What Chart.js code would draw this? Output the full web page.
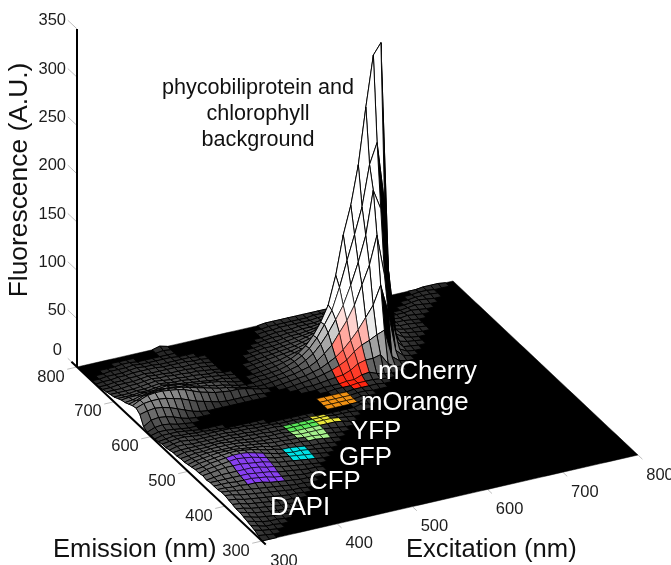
<!DOCTYPE html>
<html>
<head>
<meta charset="utf-8">
<style>html,body{margin:0;padding:0;background:#fff}canvas{display:block}</style>
<script src="https://cdn.jsdelivr.net/npm/chart.js@4"></script>
</head>
<body>
<canvas id="c" width="671" height="565"></canvas>
<script>
const fluorescenceTicks=[0,50,100,150,200,250,300,350];
const emissionTicks=[300,400,500,600,700,800];
const excitationTicks=[300,400,500,600,700,800];
const gridStartNm=300, gridStepNm=10, gridCount=50;
// fluorescence (A.U.) by emission row (800 nm first, 300 nm last); each row runs over excitation from 300 nm in 10 nm steps
const fluorescence=[
[0,0,0,0,0,0,0,0,0,0,0,2,0,0,0,0,0,0,0,0,0,0,0,0,0,1,1,1,1,1,1,1,1,1,1,1,1,1,1,0,0,0,0,0,0,0,1,1,1],
[0,0,0,0,0,0,0,0,0,0,0,1,0,0,0,0,0,0,0,0,0,0,0,0,0,1,1,1,1,1,1,2,2,2,2,2,2,1,1,0,0,0,0,0,0,1,1],
[0,0,0,0,0,1,1,0,0,0,0,0,0,0,0,0,0,0,0,0,0,0,0,0,1,1,2,2,2,2,2,3,3,3,3,3,2,2,1,0,0,0,0,0,1,1,1],
[0,0,0,1,1,1,2,1,1,1,1,1,0,0,0,0,0,0,0,0,0,0,0,0,1,2,2,2,3,3,3,4,5,6,7,7,5,3,1,1,0,0,0,1,2,1],
[0,0,1,1,1,2,3,2,2,1,1,1,1,1,0,0,0,0,0,0,0,0,0,1,2,2,3,3,4,4,5,7,9,12,15,14,9,4,2,1,0,0,1,2,1],
[0,1,1,2,2,3,3,3,3,2,2,2,2,1,1,0,0,0,0,0,0,0,1,2,2,3,4,4,5,6,8,12,16,22,28,26,14,6,2,1,1,1,2,1],
[1,1,2,2,3,3,4,3,3,3,3,2,2,2,1,0,0,0,0,0,0,1,2,2,3,4,5,6,7,9,12,18,26,36,46,40,20,7,3,2,1,2,1],
[2,2,3,3,3,4,5,4,4,3,3,3,2,2,1,0,0,0,0,0,1,2,2,3,4,5,6,8,10,13,18,26,38,52,68,60,28,8,3,2,2,1],
[3,3,3,4,4,5,6,5,5,4,4,3,3,2,1,0,0,0,0,0,1,2,3,4,5,6,8,10,14,18,26,36,52,72,92,82,36,9,4,2,2,1],
[4,4,4,4,5,6,7,6,5,5,4,4,3,2,2,0,0,0,0,1,2,3,4,5,6,8,10,14,19,26,36,50,70,98,125,110,48,10,4,2,1,1],
[5,5,5,6,6,7,8,7,6,6,5,4,4,3,2,1,0,0,0,1,2,3,4,6,8,10,13,18,26,36,50,68,94,130,165,145,60,12,4,2,1],
[7,7,7,8,8,9,10,9,8,7,6,5,4,3,3,1,0,0,0,1,2,3,5,7,11,17,26,38,54,83,123,152,192,250,302,313,76,8,3,1],
[9,10,10,11,11,12,13,12,11,9,8,7,6,5,3,1,0,0,1,1,2,3,5,8,12,18,27,39,52,74,100,125,152,194,215,150,15,4,2,1],
[10,11,13,14,15,15,15,14,13,11,9,8,6,5,3,1,0,0,1,1,2,3,5,7,11,16,24,34,46,59,78,100,126,171,150,55,10,2,1],
[12,14,17,18,19,19,18,17,15,13,11,9,7,6,4,2,1,0,0,1,2,3,4,6,8,12,18,25,36,47,61,80,99,128,85,37,5,1],
[14,18,21,22,22,21,20,18,15,12,10,8,7,6,6,5,3,1,0,0,1,2,3,4,6,8,12,16,22,30,39,50,61,80,50,9,2],
[15,18,19,19,18,16,14,11,8,6,4,2,1,1,1,1,1,0,0,0,0,1,2,3,4,6,8,11,15,22,27,30,34,37,8,2],
[12,14,15,14,12,9,6,3,1,0,0,0,0,0,0,0,0,0,0,0,0,0,1,1,2,3,4,5,8,13,15,15,17,6,1],
[3,8,9,8,6,3,1,0,0,0,0,0,0,0,0,0,0,0,0,0,0,0,0,0,1,1,1,2,2,5,6,3,1],
[1,4,5,4,2,1,0,0,0,0,0,0,0,0,0,0,0,0,0,0,0,0,0,0,0,1,1,1,2,2,2,1],
[1,3,3,2,1,0,0,0,0,0,0,0,0,0,0,0,0,0,0,0,0,0,0,0,0,0,0,1,1,1,1],
[1,3,3,3,2,1,0,0,0,0,0,0,0,0,0,0,0,0,0,0,0,0,0,0,0,0,0,1,1],
[2,3,4,3,3,2,2,1,1,0,0,0,0,0,0,0,0,0,0,0,0,0,0,0,0,0,0,1],
[3,4,5,5,4,3,3,3,3,3,2,2,1,1,0,0,0,0,0,0,0,0,0,0,0,0,0,2],
[3,5,6,5,4,4,4,4,4,3,3,3,2,2,2,1,1,1,1,1,0,0,0,0,0,0,2],
[4,6,6,5,5,5,5,5,5,4,4,3,3,3,3,2,2,2,2,2,2,2,1,1,1],
[5,6,6,6,6,6,6,6,6,5,5,4,4,3,3,3,3,3,3,3,3,3,2,1],
[5,7,7,7,7,8,8,7,7,6,5,5,4,4,4,3,3,3,3,3,3,3,2],
[6,7,8,8,9,9,9,9,8,7,6,5,5,4,4,4,3,3,3,3,2,1],
[6,8,9,10,10,10,10,10,9,8,7,6,5,5,4,4,3,3,2,2,1],
[7,9,10,11,12,12,12,11,10,9,8,6,5,5,4,4,3,3,2,1],
[8,10,11,12,13,14,14,13,12,10,8,7,5,5,4,3,2,2,1],
[9,10,12,13,14,15,15,14,12,10,8,6,5,4,4,3,2,1],
[9,11,12,13,14,15,14,13,11,9,7,6,5,4,3,2,1],
[10,11,12,13,13,13,12,11,10,8,6,5,4,3,2,1],
[9,10,11,11,11,11,11,10,8,7,5,4,3,2,1],
[10,10,10,10,10,10,9,8,7,5,4,3,2,1,1],
[10,10,10,9,9,9,8,7,5,4,3,2,1,1],
[10,10,9,9,8,8,7,5,4,3,2,1,1],
[11,10,9,8,7,6,5,4,3,2,1,1],
[11,10,8,7,6,5,4,3,2,1,1],
[10,9,7,6,5,4,3,2,1,1],
[9,8,6,5,4,3,2,1,1],
[8,7,5,4,3,2,1,1],
[8,6,4,3,2,1,1],
[7,5,3,2,1,1],
[6,4,2,1,1],
[5,3,1,1],
[4,2,1],
[2,1],
[0]
];
// colored protein regions: [emission row, first excitation column, last excitation column (exclusive)]
const dapiCells=[[12,4,9],[13,4,9],[14,4,9],[15,4,9],[16,4,9],[17,4,9]];
const cfpCells=[[16,12,15],[17,12,15],[18,12,15]];
const gfpPaleCells=[[20,16,19],[21,15,19],[22,15,19]];
const gfpCells=[[23,15,19],[24,15,19]];
const yfpCells=[[23,19,22],[24,19,21],[25,19,21]];
const orangeCells=[[27,22,26],[28,22,26],[29,22,26]];
const cherryCells=[[30,27,29],[31,26,29],[32,26,30],[33,26,30],[34,27,31],[35,27,30],[36,28,30],[37,28,29]];
const labelNames=["mCherry","mOrange","YFP","GFP","CFP","DAPI"];
const annotationLines=["phycobiliprotein and","chlorophyll","background"];

const W=671,H=565;
const cell=new Map();
function mark(list,rgb,fade){for(const [j,a,b] of list)for(let i=a;i<b;i++)cell.set(i+','+j,{rgb,fade});}
mark(dapiCells,[136,64,240]);
mark(cfpCells,[0,226,230]);
mark(gfpPaleCells,[165,240,140]);
mark(gfpCells,[90,230,90]);
mark(yfpCells,[235,230,60]);
mark(orangeCells,[240,145,20]);
mark(cherryCells,[255,32,10],true);

function z(i,j){const r=fluorescence[gridCount-j];return (r&&r[i])||0;}
function toNm(k){return gridStartNm+k*gridStepNm;}
function px(ex,em){return 262+(ex-300)/500*376-(em-300)/500*185;}
function py(ex,em,f){return 541-(ex-300)/500*86-(em-300)/500*174-f*0.966;}
function pt(i,j){const e=toNm(i),m=toNm(j);return {x:px(e,m),y:py(e,m,z(i,j))};}
function grey(v){if(v<=0)return 'rgb(0,0,0)';const g=Math.round(35+220*Math.pow(Math.min(v,50)/50,0.75));return `rgb(${g},${g},${g})`;}

const datasets=[];
function base(o){return Object.assign({showLine:true,pointRadius:0,pointHoverRadius:0,tension:0,clip:false,fill:false,borderCapStyle:'butt'},o);}

// surface outline, black where fluorescence is zero
const outline=[];
for(let i=0;i<=gridCount;i++)outline.push(pt(i,0));
for(let j=1;j<=gridCount;j++)outline.push(pt(gridCount,j));
for(let i=gridCount-1;i>=0;i--)outline.push(pt(i,gridCount));
for(let j=gridCount-1;j>=0;j--)outline.push(pt(0,j));
datasets.push(base({data:outline,fill:'shape',backgroundColor:'#000',borderColor:'#000',borderWidth:0.5,order:100000}));

for(let j=0;j<gridCount;j++)for(let i=0;i<gridCount;i++){
  const a=pt(i,j),b=pt(i+1,j),c=pt(i+1,j+1),d=pt(i,j+1);
  const zl=z(i,j)+z(i,j+1),zr=z(i+1,j)+z(i+1,j+1);
  const avg=(zl+zr)/4;
  const patch=cell.get(i+','+j);
  if(avg<=0&&!patch)continue;
  const area=((b.x-a.x)*(c.y-a.y)-(b.y-a.y)*(c.x-a.x))+((c.x-a.x)*(d.y-a.y)-(c.y-a.y)*(d.x-a.x));
  let col;
  if(patch){
    const t=patch.fade?Math.min(1,avg/55):0;
    const q=patch.rgb.map(v=>Math.round(v+(255-v)*t));
    col=`rgb(${q[0]},${q[1]},${q[2]})`;
  }else col=(area>=0||(avg>25&&zr<0.6*zl))?'#000':grey(avg);
  datasets.push(base({data:[a,b,c,d,a],fill:'shape',backgroundColor:col,borderColor:'#000',borderWidth:patch?0.6:0.95,order:1000+2.15*i+4.35*j}));
}

// axes and tick marks
const tickGrey='#bdbdbd';
datasets.push(base({data:[{x:px(300,800),y:py(300,800,0)},{x:px(300,800),y:py(300,800,350)}],borderColor:'#000',borderWidth:2,order:-10}));
datasets.push(base({data:[{x:px(300,815),y:py(300,815,0)},{x:px(300,290),y:py(300,290,0)}],borderColor:'#000',borderWidth:2,order:-10}));
for(const f of fluorescenceTicks){datasets.push(base({data:[{x:px(300,800),y:py(300,800,f)},{x:px(300,825),y:py(300,825,f)}],borderColor:tickGrey,borderWidth:1,order:500000}));}
for(const m of emissionTicks){datasets.push(base({data:[{x:px(300,m),y:py(300,m,0)},{x:px(287,m),y:py(287,m,0)}],borderColor:tickGrey,borderWidth:1,order:500000}));}
for(const e of excitationTicks){datasets.push(base({data:[{x:px(e,300),y:py(e,300,0)},{x:px(e,288),y:py(e,288,0)}],borderColor:tickGrey,borderWidth:1,order:500000}));}

const textPlugin={id:'texts',afterDatasetsDraw(chart){
  const {ctx,scales:{x:sx,y:sy}}=chart;
  const X=v=>sx.getPixelForValue(v),Y=v=>sy.getPixelForValue(v);
  const face='"Liberation Sans",Arial,sans-serif';
  ctx.save();
  ctx.textBaseline='middle';
  ctx.fillStyle='#1c1c1c';
  ctx.font='16.5px '+face;
  ctx.textAlign='right';
  for(const f of fluorescenceTicks){
    ctx.fillText(String(f),X(px(300,800))-(f===0?15:11),Y(py(300,800,f))-(f===0?17:8));
  }
  ctx.textAlign='center';
  for(const m of emissionTicks)ctx.fillText(String(m),X(px(300,m))-26,Y(py(300,m,0))+10);
  for(const e of excitationTicks)ctx.fillText(String(e),X(px(e,300))+22,Y(py(e,300,0))+20);
  ctx.fillStyle='#111';
  ctx.font='25.6px '+face;
  ctx.textAlign='left';
  ctx.fillText('Emission (nm)',X(px(300,300))-209,Y(py(300,300,0))+9);
  ctx.fillText('Excitation (nm)',X(px(300,300))+144,Y(py(300,300,0))+9);
  ctx.save();
  ctx.translate(20,180);ctx.rotate(-Math.PI/2);ctx.textAlign='center';
  ctx.font='26.4px '+face;
  ctx.fillText('Fluorescence (A.U.)',0,0);
  ctx.restore();
  ctx.font='21.6px '+face;ctx.textAlign='center';
  annotationLines.forEach((t,k)=>ctx.fillText(t,258,88+k*26));
  ctx.fillStyle='#fff';ctx.textAlign='left';ctx.font='25.8px '+face;
  const spots=[[378,372],[361,403],[351,432],[339,458],[309,482],[270,508]];
  labelNames.forEach((t,k)=>ctx.fillText(t,spots[k][0],spots[k][1]));
  ctx.restore();
}};

new Chart(document.getElementById('c'),{
  type:'scatter',
  data:{datasets},
  options:{
    responsive:false,animation:false,events:[],
    layout:{padding:0},
    plugins:{legend:{display:false},tooltip:{enabled:false},title:{display:false}},
    scales:{
      x:{type:'linear',min:0,max:W,display:false},
      y:{type:'linear',min:0,max:H,reverse:true,display:false}
    }
  },
  plugins:[textPlugin]
});
</script>
</body>
</html>
